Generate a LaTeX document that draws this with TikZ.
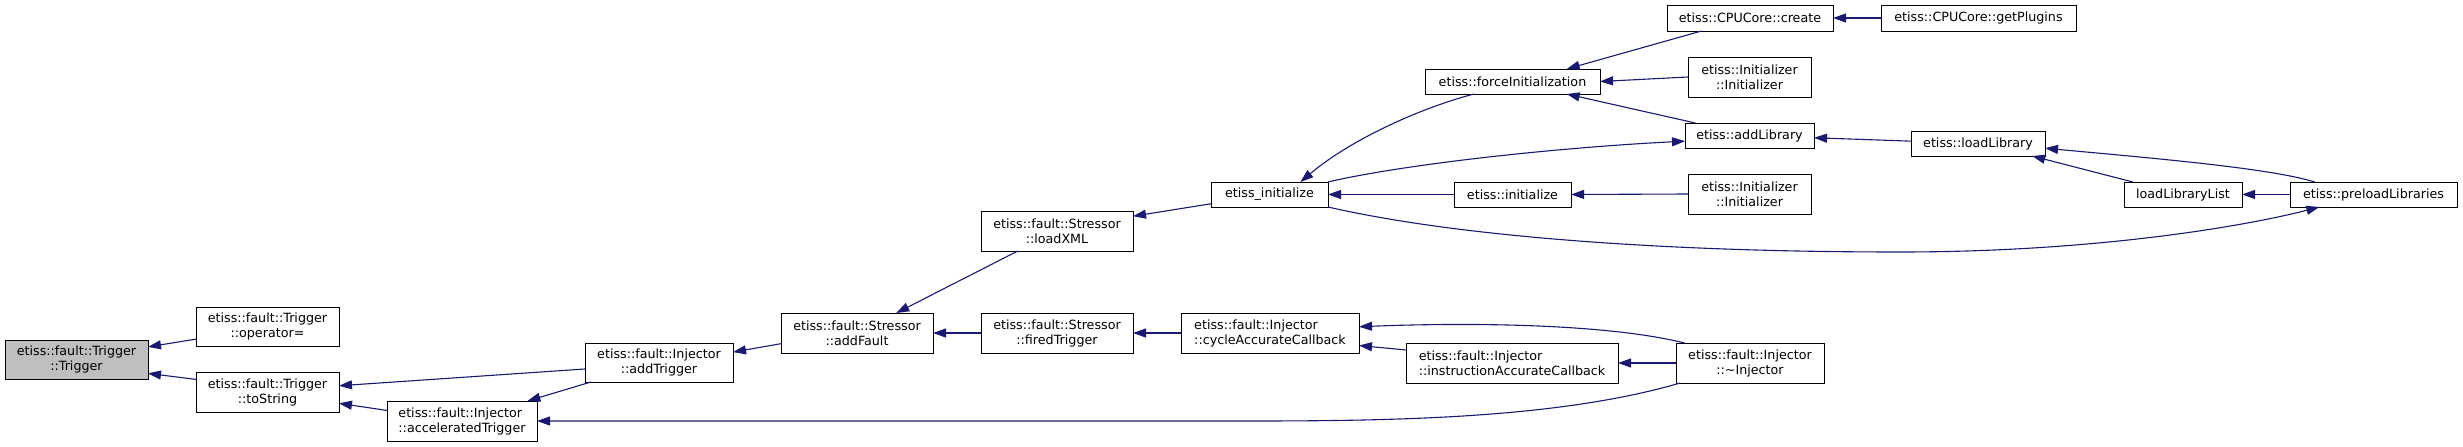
\documentclass[tikz,border=0pt]{standalone}
\usepackage{fontspec}
\setmainfont{DejaVu Sans}
\usetikzlibrary{arrows.meta}
\definecolor{midnight}{HTML}{191970}
\begin{document}
\begin{tikzpicture}[x=1pt, y=-1pt,
  fn/.style={draw=black, line width=1pt, fill=white, inner sep=0pt, outer sep=0pt,
    font=\fontsize{12.7}{15}\selectfont},
  edge/.style={draw=midnight, line width=1.1pt, -{Triangle[length=13pt, width=9pt]}}]
  \useasboundingbox (0,0) rectangle (2463,447);
  % root
  \node[fn, fill=black!25, align=center, minimum width=143, minimum height=39] (trig) at (76.5,359.5) {etiss::fault::Trigger\\::Trigger};
  % callers
  \foreach \name/\x/\y/\w/\h/\al/\txt in {
    opeq/267.5/326.5/143/39/center/{etiss::fault::Trigger\\::operator=},
    tostr/267.5/392/143/40/center/{etiss::fault::Trigger\\::toString},
    acctrig/462/421/150/40/left/{etiss::fault::Injector\\::acceleratedTrigger},
    addtrig/659/362.5/148/39/center/{etiss::fault::Injector\\::addTrigger},
    addfault/857/333/152/40/center/{etiss::fault::Stressor\\::addFault},
    loadxml/1057/231/152/40/center/{etiss::fault::Stressor\\::loadXML},
    fired/1057/333/152/40/center/{etiss::fault::Stressor\\::firedTrigger},
    cycacc/1270/333/178/40/left/{etiss::fault::Injector\\::cycleAccurateCallback},
    instacc/1512/363/212/40/left/{etiss::fault::Injector\\::instructionAccurateCallback},
    dtor/1750/363/148/40/center/{etiss::fault::Injector\\::\textasciitilde Injector},
    einit/1269.5/194.5/117/25/center/{etiss\_initialize},
    force/1512.5/81.5/175/25/center/{etiss::forceInitialization},
    einitz/1512.5/194.5/117/25/center/{etiss::initialize},
    create/1750/18/166/26/center/{etiss::CPUCore::create},
    initA/1749.5/77/123/40/center/{etiss::Initializer\\::Initializer},
    addlib/1749.5/135.5/129/25/center/{etiss::addLibrary},
    initB/1749.5/194/123/40/center/{etiss::Initializer\\::Initializer},
    plugins/1978.5/18/195/26/center/{etiss::CPUCore::getPlugins},
    loadlib/1978/143.5/134/25/center/{etiss::loadLibrary},
    lllist/2183/194.5/118/25/center/{loadLibraryList},
    preload/2373.5/194.5/167/25/center/{etiss::preloadLibraries}} {
    \node[fn, align=\al, minimum width=\w, minimum height=\h] (\name) at (\x,\y) {\txt};
  }
  % straight calls
  \foreach \a/\b in {opeq.190/trig.10, tostr.170/trig.349, addtrig.185/tostr.5,
    acctrig.172/tostr.351, addtrig.196/acctrig.17, addfault.188/addtrig.8,
    loadxml.207/addfault.27, fired.west/addfault.east, einit.189/loadxml.11,
    cycacc.west/fired.east, instacc.173/cycacc.352, dtor.west/instacc.east,
    create.195/force.13, initA.west/force.east, addlib.167/force.347,
    plugins.west/create.east, loadlib.178/addlib.358, einitz.west/einit.east,
    initB.west/einitz.east, lllist.166/loadlib.347, preload.west/lllist.east} {
    \draw[edge] (\a) -- (\b);
  }
  % curved calls
  \draw[edge] (dtor.163) .. controls (1600,322) and (1450,323) .. (cycacc.4);
  \draw[edge] (dtor.196) .. controls (1560,418) and (1400,421) .. (1250,421) -- (acctrig.east);
  \draw[edge] (force.198) .. controls (1420,108) and (1350,140) .. (einit.22);
  \draw[edge] (einit.north east) .. controls (1400,165) and (1550,148) .. (addlib.185);
  \draw[edge] (einit.south east) .. controls (1450,235) and (1650,252) .. (1900,252)
    .. controls (2100,252) and (2250,225) .. (preload.193);
  \draw[edge] (preload.168) .. controls (2270,168) and (2150,158) .. (loadlib.356);
\end{tikzpicture}
\end{document}
